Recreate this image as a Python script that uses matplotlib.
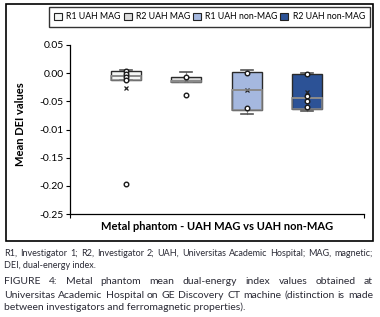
import matplotlib
matplotlib.use('Agg')
import matplotlib.pyplot as plt
from matplotlib.patches import Rectangle, Patch

# ---------------- data ----------------
series = ['R1 UAH MAG', 'R2 UAH MAG', 'R1 UAH non-MAG', 'R2 UAH non-MAG']
q1 = [-0.013, -0.016, -0.065, -0.063]
med = [-0.005, -0.0145, -0.030, -0.044]
q3 = [0.0045, -0.006, 0.002, -0.002]
whislo = [-0.013, -0.016, -0.073, -0.068]
whishi = [0.006, 0.002, 0.006, 0.0]
means = [-0.027, -0.012, -0.030, -0.034]
points = [
    [0.003, -0.002, -0.007, -0.012, -0.197],
    [-0.007, -0.0385],
    [0.001, -0.062],
    [-0.002, -0.040, -0.049, -0.060],
]
yticks = [0.05, 0.0, -0.05, -0.10, -0.15, -0.20, -0.25]
yticklabels = ['0.05', '0.00', '-0.05', '-0.01', '-0.15', '-0.20', '-0.25']
xlabel = 'Metal phantom - UAH MAG vs UAH non-MAG'
ylabel = 'Mean DEI values'
caption1 = ['R1, Investigator 1; R2, Investigator 2; UAH, Universitas Academic Hospital; MAG, magnetic;',
            'DEI, dual-energy index.']
caption2 = ['FIGURE 4: Metal phantom mean dual-energy index values obtained at',
            'Universitas Academic Hospital on GE Discovery CT machine (distinction is made',
            'between investigators and ferromagnetic properties).']

fills = ['#f3f5f4', '#dcdcdc', '#a5b8df', '#2c5296']
FONT = 'Lato'
plt.rcParams['font.family'] = [FONT, 'DejaVu Sans']

W, H = 380, 317
fig = plt.figure(figsize=(W / 100, H / 100), dpi=100)
renderer = fig.canvas.get_renderer()


def fx(x):
    return x / W


def fy(y):
    return 1 - y / H


# outer frame
fig.patches.append(Rectangle((fx(6), fy(241)), fx(373) - fx(6), fy(4) - fy(241),
                             transform=fig.transFigure, fill=False, edgecolor='black',
                             linewidth=1.2))

ax = fig.add_axes([fx(70), fy(214), fx(364) - fx(70), fy(45) - fy(214)])
positions = list(range(1, len(series) + 1))
stats = [dict(med=m, q1=a, q3=b, whislo=lo, whishi=hi, mean=mn, label=s)
         for s, m, a, b, lo, hi, mn in zip(series, med, q1, q3, whislo, whishi, means)]
bp = ax.bxp(stats, positions=positions, widths=0.5, patch_artist=True,
            showfliers=False, showmeans=True, capwidths=0.2,
            boxprops=dict(edgecolor='#2a2a2a', linewidth=1.0),
            medianprops=dict(color='#8a8a8a', linewidth=1.4),
            whiskerprops=dict(color='#8a8a8a', linewidth=0.8),
            capprops=dict(color='#555555', linewidth=1.2),
            meanprops=dict(marker='x', markeredgecolor='#222222', markersize=3.2,
                           markeredgewidth=0.9, linestyle='none'))
for patch, c in zip(bp['boxes'], fills):
    patch.set_facecolor(c)
for p, a, m in zip(positions, q1, med):
    ax.add_patch(Rectangle((p - 0.25, a), 0.5, m - a, fill=False,
                           edgecolor=(0.55, 0.55, 0.55, 0.8), linewidth=1.3, zorder=3))
for p, pts in zip(positions, points):
    ax.plot([p] * len(pts), pts, linestyle='none', marker='o', markersize=3.3,
            markerfacecolor='white', markeredgecolor='#1a1a1a', markeredgewidth=1.0, zorder=4)

ax.set_ylim(-0.25, 0.05)
ax.set_xlim(0.067, 4.95)
ax.set_yticks(yticks)
ax.set_yticklabels(yticklabels)
ax.set_xticks([0.067, 4.95])
ax.set_xticklabels(['', ''])
ax.tick_params(axis='both', direction='out', length=3, width=0.8, labelsize=7.5, pad=1.5,
               colors='black')
for s in ['top', 'right']:
    ax.spines[s].set_visible(False)
for s in ['left', 'bottom']:
    ax.spines[s].set_linewidth(0.9)
ax.patch.set_alpha(0)

fig.text(fx(21), fy(124), ylabel, rotation=90, ha='center', va='center',
         fontsize=8, fontweight='bold')
fig.text(fx(217), fy(227), xlabel, ha='center', va='center', fontsize=8,
         fontweight='bold')

handles = [Patch(facecolor=c, edgecolor='#222222', linewidth=0.8) for c in fills]
leg = fig.legend(handles, series, ncol=4, loc='upper left', mode='expand',
                 bbox_to_anchor=(fx(49), fy(29), fx(370) - fx(49), fy(7) - fy(29)),
                 frameon=True, fancybox=False, edgecolor='black', fontsize=6.3,
                 handlelength=0.9, handleheight=0.9, handletextpad=0.5, columnspacing=0.8,
                 borderpad=0.6, borderaxespad=0)
leg.get_frame().set_linewidth(1.0)

# caption
cc = '#2b2b36'
X0, X1 = 4, 373


def fit_size(line):
    t = fig.text(0, 0, line, fontsize=10)
    w = t.get_window_extent(renderer).width
    t.remove()
    return 10 * (X1 - X0) / w


def put_line(line, y, size, justify):
    if not justify:
        fig.text(fx(X0), fy(y), line, fontsize=size, color=cc, ha='left', va='center')
        return
    words = line.split(' ')
    texts = [fig.text(0, 0, w, fontsize=size, color=cc, ha='left', va='center') for w in words]
    widths = [t.get_window_extent(renderer).width for t in texts]
    gap = (X1 - X0 - sum(widths)) / (len(words) - 1)
    x = X0
    for t, w in zip(texts, widths):
        t.set_position((fx(x), fy(y)))
        x += w + gap


s1 = fit_size(caption1[0]) * 0.985
s2 = fit_size(caption2[1]) * 0.985
put_line(caption1[0], 253, s1, True)
put_line(caption1[1], 265, s1, False)
put_line(caption2[0], 282, s2, True)
put_line(caption2[1], 295, s2, True)
put_line(caption2[2], 307.5, s2, False)

fig.savefig('out.png', dpi=100)
